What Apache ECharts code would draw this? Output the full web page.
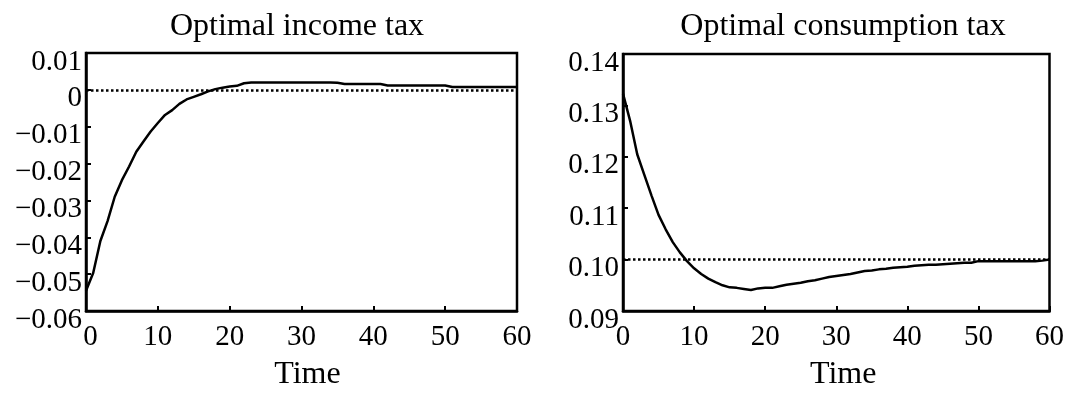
<!DOCTYPE html>
<html>
<head>
<meta charset="utf-8">
<script src="https://cdn.jsdelivr.net/npm/echarts@6/dist/echarts.min.js"></script>
<style>
  html, body { margin: 0; padding: 0; background: #fff; }
  #main { width: 1067px; height: 396px; }
</style>
</head>
<body>
<div id="main"></div>
<script>
// time periods 0..60
var timeSteps = []
for (var i = 0; i <= 60; i++) timeSteps.push(i)

var incomeTax = [
  -0.0545, -0.0497, -0.0410, -0.0356, -0.0290, -0.0245, -0.0208, -0.0168, -0.0140, -0.0113,
  -0.0090, -0.0068, -0.0055, -0.0038, -0.0026, -0.0019, -0.0012, -0.0004, 0.0002, 0.0006,
  0.0009, 0.0011, 0.0018, 0.0020, 0.0020, 0.0020, 0.0020, 0.0020, 0.0020, 0.0020,
  0.0020, 0.0020, 0.0020, 0.0020, 0.0020, 0.0019, 0.0016, 0.0016, 0.0016, 0.0016,
  0.0016, 0.0016, 0.0012, 0.0012, 0.0012, 0.0012, 0.0012, 0.0012, 0.0012, 0.0012,
  0.0012, 0.0008, 0.0008, 0.0008, 0.0008, 0.0008, 0.0008, 0.0008, 0.0008, 0.0008,
  0.0008
]

var consumptionTax = [
  0.1323, 0.1270, 0.1205, 0.1165, 0.1125, 0.1087, 0.1059, 0.1034, 0.1014, 0.0997,
  0.0983, 0.0972, 0.0963, 0.0956, 0.0950, 0.0946, 0.0945, 0.0943, 0.0941, 0.0944,
  0.0945, 0.0945, 0.0948, 0.0951, 0.0953, 0.0955, 0.0958, 0.0960, 0.0963, 0.0966,
  0.0968, 0.0970, 0.0972, 0.0975, 0.0978, 0.0979, 0.0981, 0.0982, 0.0984, 0.0985,
  0.0986, 0.0988, 0.0989, 0.0990, 0.0990, 0.0991, 0.0992, 0.0993, 0.0994, 0.0994,
  0.0997, 0.0997, 0.0997, 0.0997, 0.0997, 0.0997, 0.0997, 0.0997, 0.0997, 0.0998,
  0.1000
]

var titles = ['Optimal income tax', 'Optimal consumption tax']
var xName = 'Time'
var incomeRef = 0
var consumptionRef = 0.10

var font = 'Liberation Serif, Times New Roman, serif'

function pairs (ys) {
  return ys.map(function (v, idx) {
    return [timeSteps[idx], v]
  })
}

function xAxisFor (gridIndex, shift, zeroPad) {
  return {
    gridIndex: gridIndex,
    type: 'value',
    min: 0,
    max: 60,
    interval: 10,
    name: xName,
    nameLocation: 'middle',
    nameGap: 48,
    nameTextStyle: { color: '#000', fontSize: 32, fontFamily: font, padding: [0, 0, 0, shift] },
    axisLine: { onZero: false, lineStyle: { color: '#000', width: 2.5 } },
    axisTick: { inside: true, length: 5, lineStyle: { color: '#000', width: 2 } },
    axisLabel: {
      color: '#000',
      fontSize: 29,
      fontFamily: font,
      margin: 12,
      // the first label sits a bit to the right in the left panel
      formatter: function (v) {
        return v === 0 ? '{z|0}' : String(v)
      },
      rich: {
        z: { color: '#000', fontSize: 29, fontFamily: font, padding: [0, 0, 0, zeroPad] }
      }
    },
    splitLine: { show: false }
  }
}

function yAxisFor (gridIndex, min, max, fmt) {
  return {
    gridIndex: gridIndex,
    type: 'value',
    min: min,
    max: max,
    interval: 0.01,
    axisLine: { show: true, onZero: false, lineStyle: { color: '#000', width: 2.5 } },
    axisTick: { show: true, inside: true, length: 5, lineStyle: { color: '#000', width: 2 } },
    axisLabel: {
      color: '#000',
      fontSize: 29,
      fontFamily: font,
      margin: 4,
      verticalAlign: 'top',
      lineHeight: 18,
      formatter: fmt
    },
    splitLine: { show: false }
  }
}

function refLine (val) {
  return {
    silent: true,
    symbol: 'none',
    label: { show: false },
    lineStyle: { color: '#000', type: [2.5, 2.5], width: 2.5 },
    data: [{ yAxis: val }]
  }
}

var myChart = echarts.init(document.getElementById('main'))
var option = {
  animation: false,
  backgroundColor: '#fff',
  title: [
    { text: titles[0], left: 292, top: 6, textAlign: 'center',
      textStyle: { color: '#000', fontSize: 32, fontWeight: 'normal', fontFamily: font } },
    { text: titles[1], left: 838, top: 6, textAlign: 'center',
      textStyle: { color: '#000', fontSize: 32, fontWeight: 'normal', fontFamily: font } }
  ],
  grid: [
    { left: 86, top: 53, width: 431, height: 264, show: true, borderColor: '#000', borderWidth: 2.5 },
    { left: 623, top: 54, width: 432, height: 265, show: true, borderColor: '#000', borderWidth: 2.5 }
  ],
  xAxis: [xAxisFor(0, 12, 9), xAxisFor(1, 14, 0)],
  yAxis: [
    yAxisFor(0, -0.06, 0.01, function (v) {
      if (Math.abs(v) < 1e-9) return '0'
      return (v < 0 ? '\u2212' : '') + Math.abs(v).toFixed(2)
    }),
    yAxisFor(1, 0.09, 0.14, function (v) {
      return v.toFixed(2)
    })
  ],
  series: [
    {
      type: 'line',
      xAxisIndex: 0,
      yAxisIndex: 0,
      data: pairs(incomeTax),
      showSymbol: false,
      lineStyle: { color: '#000', width: 2.5 },
      markLine: refLine(incomeRef)
    },
    {
      type: 'line',
      xAxisIndex: 1,
      yAxisIndex: 1,
      data: pairs(consumptionTax),
      showSymbol: false,
      lineStyle: { color: '#000', width: 2.5 },
      markLine: refLine(consumptionRef)
    }
  ]
}
myChart.setOption(option, true)
</script>
</body>
</html>
